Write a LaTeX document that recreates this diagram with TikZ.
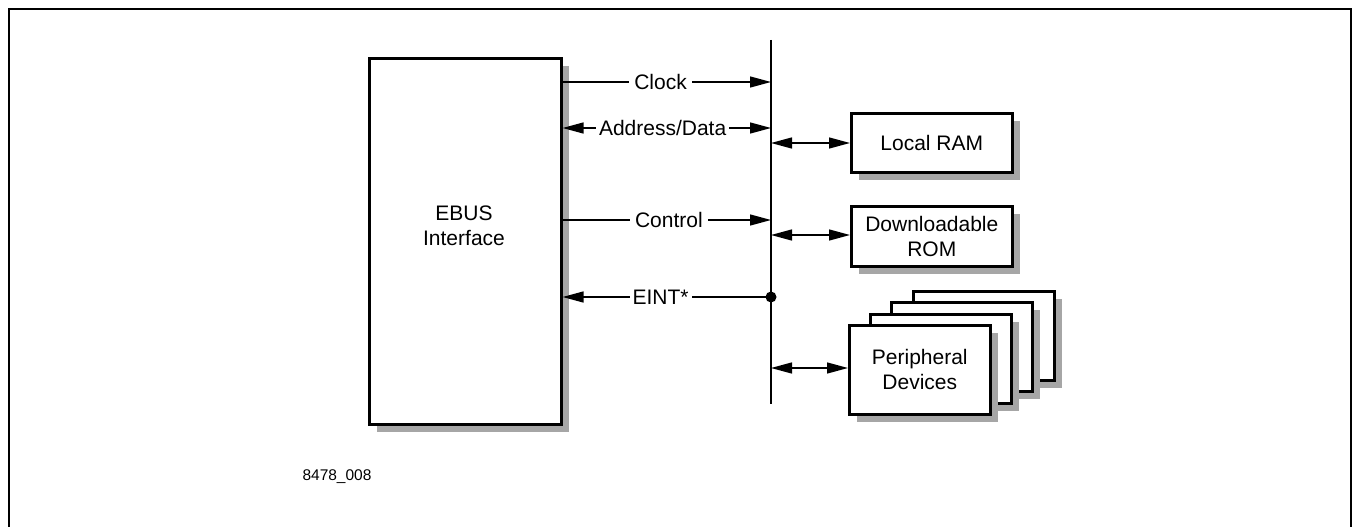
\documentclass[tikz,border=0pt]{standalone}
\usepackage{fontspec}
\setmainfont{Liberation Sans}
\usetikzlibrary{arrows.meta,shadows}
\begin{document}
\begin{tikzpicture}[x=1pt,y=-1pt,
  box/.style={draw=black,line width=2.6pt,fill=white,align=center,
    font=\fontsize{21}{25}\selectfont,
    drop shadow={shadow xshift=8pt,shadow yshift=-8pt,fill=black!35,opacity=1}},
  sig/.style={line width=1.4pt},
  tip/.style={-{Triangle[length=21pt,width=11pt]}},
  twotip/.style={{Triangle[length=21pt,width=11pt]}-{Triangle[length=21pt,width=11pt]}},
  lbl/.style={fill=white,inner sep=5pt,font=\fontsize{21}{25}\selectfont}]
\useasboundingbox (0,0) rectangle (1353,527);
% frame
\draw[line width=2.8pt] (9,527) -- (9,9) -- (1351,9) -- (1351,527);
% EBUS interface
\node[box,minimum width=192pt,minimum height=366pt,anchor=north west] (ebus) at (368,57) {};
\node[font=\fontsize{21}{25}\selectfont,align=center] (ebustxt) at (464,226) {EBUS\\Interface};
% bus
\coordinate (btop) at (771,40);
\coordinate (bbot) at (771,404);
\draw[sig] (btop) -- (bbot);
\coordinate (bclk) at (771,82);
\coordinate (badd) at (771,128);
\coordinate (bctl) at (771,220);
\coordinate (bint) at (771,297);
\coordinate (bram) at (771,143);
\coordinate (brom) at (771,235);
\coordinate (bper) at (771,368);
% signals
\draw[sig,tip] (ebus.east |- bclk) -- node[lbl,pos=0.47] (lclk) {Clock} (bclk);
\draw[sig,twotip] (ebus.east |- badd) -- node[lbl,pos=0.48,inner sep=3pt] (ladd) {Address/Data} (badd);
\draw[sig,tip] (ebus.east |- bctl) -- node[lbl,pos=0.51] (lctl) {Control} (bctl);
\draw[sig,tip] (bint) -- node[lbl,pos=0.53,inner sep=3pt] (lint) {EINT*} (ebus.east |- bint);
\fill (bint) circle (5.5pt);
% devices
\node[box,minimum width=161pt,minimum height=59pt,anchor=north west] (ram) at (850,112) {Local RAM};
\node[box,minimum width=161pt,minimum height=60pt,anchor=north west] (rom) at (850,205) {Downloadable\\ROM};
\node[box,minimum width=141pt,minimum height=89pt,anchor=north west] (p4) at (912,290) {};
\node[box,minimum width=141pt,minimum height=89pt,anchor=north west] (p3) at (890,301) {};
\node[box,minimum width=141pt,minimum height=89pt,anchor=north west] (p2) at (869,313) {};
\node[box,minimum width=141pt,minimum height=89pt,anchor=north west] (p1) at (848,324) {Peripheral\\Devices};
\draw[sig,twotip] (bram) -- (ram.west |- bram);
\draw[sig,twotip] (brom) -- (rom.west |- brom);
\draw[sig,twotip] (bper) -- (p1.west |- bper);
% figure id
\node[font=\fontsize{15.5}{18}\selectfont] (fid) at (337,477) {8478\_008};
\end{tikzpicture}
\end{document}
